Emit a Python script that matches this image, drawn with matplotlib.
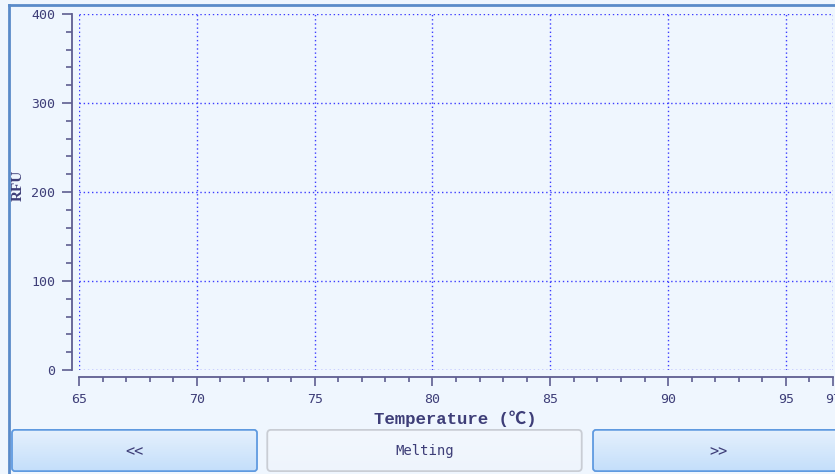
import numpy as np
import matplotlib
matplotlib.use("Agg")
import matplotlib.pyplot as plt
from matplotlib.patches import FancyBboxPatch
from matplotlib.ticker import FixedLocator, MultipleLocator

W, H = 835, 474

# melting curve panel: axis ranges and labelled ticks (no curves loaded yet)
temp_range = (65, 97)
rfu_range = (0, 400)
temp_ticks = [65, 70, 75, 80, 85, 90, 95, 97]
rfu_ticks = [0, 100, 200, 300, 400]
x_label = "Temperature (℃)"
y_label = "RFU"
button_labels = ["<<", "Melting", ">>"]

BG = "#eff6fe"
AXIS = "#5e5e90"
TEXT = "#3e3e78"
GRID = "#3c3cff"
FRAME = "#5a8bc9"

plt.rcParams["font.family"] = ["DejaVu Sans Mono", "Noto Sans CJK SC"]


def box(px, py, pw, ph):
    # pixel rectangle (top-left origin) -> figure fraction
    return [px / W, 1 - (py + ph) / H, pw / W, ph / H]


fig = plt.figure(figsize=(W / 100, H / 100), dpi=100)
fig.patch.set_facecolor(BG)

ax = fig.add_axes(box(79, 14, 754, 356))
ax.set_facecolor("none")
ax.set_xlim(*temp_range)
ax.set_ylim(*rfu_range)

ax.xaxis.set_major_locator(FixedLocator(temp_ticks))
ax.xaxis.set_minor_locator(MultipleLocator(1))
ax.yaxis.set_major_locator(FixedLocator(rfu_ticks))
ax.yaxis.set_minor_locator(MultipleLocator(20))

ax.grid(True, which="major", color=GRID, linestyle=(0, (1, 2)), linewidth=1)
for gl in ax.get_xgridlines() + ax.get_ygridlines():
    gl.set_clip_on(False)

for side in ["top", "right"]:
    ax.spines[side].set_visible(False)
for side in ["left", "bottom"]:
    ax.spines[side].set_position(("outward", 5))
    ax.spines[side].set_color(AXIS)
    ax.spines[side].set_linewidth(1.3)

ax.tick_params(which="both", direction="out", color=AXIS, width=1.2,
               labelcolor=TEXT, labelsize=9.5)
ax.tick_params(axis="y", which="major", length=7, pad=5)
ax.tick_params(axis="y", which="minor", length=4)
ax.tick_params(axis="x", which="major", length=6.5, pad=5)
ax.tick_params(axis="x", which="minor", length=3.5)

fig.text(455 / W, 1 - 419 / H, x_label, ha="center", va="center",
         fontsize=12.5, fontweight="bold", color=TEXT,
         family=["Liberation Mono", "Noto Sans CJK SC"])
fig.text(18 / W, 1 - 185 / H, y_label, ha="center", va="center",
         rotation=90, fontsize=11, fontweight="bold", color=TEXT,
         family=["Liberation Serif", "DejaVu Serif"])

# window frame along top and left edge
fig.add_artist(plt.Line2D([8.5 / W, 1], [1 - 4.5 / H, 1 - 4.5 / H],
                          color=FRAME, linewidth=2, transform=fig.transFigure))
fig.add_artist(plt.Line2D([8.5 / W, 8.5 / W], [0, 1 - 4.5 / H],
                          color=FRAME, linewidth=2, transform=fig.transFigure))

# navigation buttons
buttons = [
    (11, 258, ("#e6f1fd", "#c3defa"), "#5f9ae0", 11),
    (266, 583, ("#f3f8fe", "#eef4fc"), "#c9cdd4", 10),
    (592, 845, ("#e6f1fd", "#c3defa"), "#5f9ae0", 11),
]
for (x0, x1, (top, bottom), edge, fs), label in zip(buttons, button_labels):
    bax = fig.add_axes(box(x0, 429, x1 - x0, 43))
    bax.set_xlim(0, 1)
    bax.set_ylim(0, 1)
    bax.axis("off")
    c0 = np.array(matplotlib.colors.to_rgb(top))
    c1 = np.array(matplotlib.colors.to_rgb(bottom))
    t = np.linspace(0, 1, 64)[:, None]
    grad = (c0 * (1 - t) + c1 * t)[:, None, :]
    img = bax.imshow(grad, extent=(0, 1, 0, 1), origin="upper", aspect="auto")
    face = FancyBboxPatch((0.004, 0.02), 0.992, 0.96,
                          boxstyle="round,pad=0,rounding_size=0.012",
                          mutation_aspect=(x1 - x0) / 43,
                          facecolor="none", edgecolor=edge, linewidth=1.3,
                          transform=bax.transAxes)
    bax.add_patch(face)
    img.set_clip_path(face)
    bax.text(0.5, 0.48, label, ha="center", va="center", fontsize=fs,
             color=TEXT, transform=bax.transAxes)

fig.savefig("out.png", dpi=100, facecolor=BG)
